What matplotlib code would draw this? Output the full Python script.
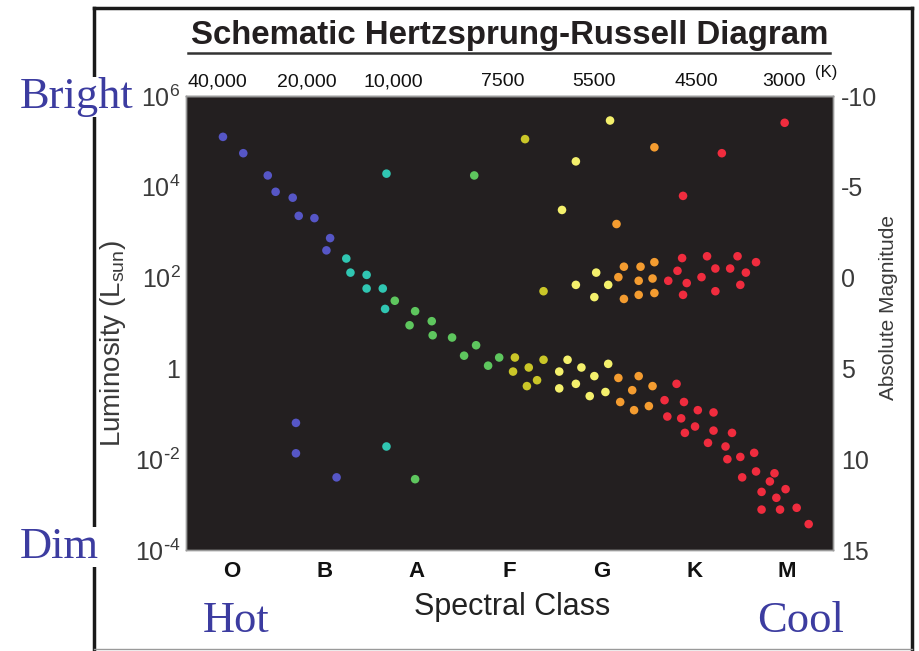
import numpy as np
import matplotlib.pyplot as plt
from matplotlib.lines import Line2D
from matplotlib.ticker import NullLocator

plt.rcParams['font.family'] = ['Liberation Sans', 'DejaVu Sans']
plt.rcParams['mathtext.default'] = 'regular'

# Axis settings
classes = ['O', 'B', 'A', 'F', 'G', 'K', 'M']
temp_pos = [0.34, 1.31, 2.24, 3.43, 4.42, 5.52, 6.47]
temp_labels = ['40,000', '20,000', '10,000', '7500', '5500', '4500', '3000']
lum_ticks = [1e6, 1e4, 1e2, 1, 1e-2, 1e-4]
lum_labels = [r'$10^6$', r'$10^4$', r'$10^2$', '1', r'$10^{\text{-}2}$', r'$10^{\text{-}4}$']
mag_ticks = [-10, -5, 0, 5, 10, 15]

# Stars: position along the spectral axis (O = 0.5 ... M = 6.5) and log10(L / Lsun)
blue_x = [0.40, 0.62, 0.885, 0.97, 1.155, 1.22, 1.39, 1.56, 1.52, 1.19, 1.19, 1.63]
blue_logl = [5.10, 4.74, 4.25, 3.89, 3.76, 3.36, 3.31, 2.87, 2.60, -1.20, -1.87, -2.40]

cyan_x = [2.17, 1.735, 1.78, 1.955, 1.955, 2.13, 2.155, 2.17]
cyan_logl = [4.29, 2.42, 2.11, 2.06, 1.76, 1.76, 1.31, -1.72]

green_x = [2.26, 3.12, 2.48, 2.42, 2.66, 2.67, 2.88, 3.14, 3.01, 3.27, 3.39, 2.48]
green_logl = [1.49, 4.25, 1.26, 0.95, 1.04, 0.73, 0.68, 0.51, 0.28, 0.06, 0.24, -2.44]

olive_x = [3.67, 3.87, 3.56, 3.54, 3.71, 3.87, 3.69, 3.80]
olive_logl = [5.05, 1.70, 0.24, -0.07, 0.02, 0.19, -0.39, -0.26]

yellow_x = [4.59, 4.22, 4.07, 4.22, 4.44, 4.57, 4.42, 4.13, 4.28, 4.04, 4.42, 4.57,
            4.04, 4.22, 4.37, 4.54]
yellow_logl = [5.46, 4.56, 3.49, 1.84, 2.11, 1.84, 1.57, 0.19, 0.02, -0.07, -0.17, 0.10,
               -0.44, -0.34, -0.61, -0.52]

orange_x = [4.66, 5.07, 4.74, 4.92, 5.07, 4.68, 4.90, 5.05, 4.74, 4.90, 5.07,
            4.68, 4.90, 4.83, 5.05, 4.70, 4.85, 5.01]
orange_logl = [3.18, 4.87, 2.24, 2.24, 2.34, 2.01, 1.93, 1.98, 1.53, 1.62, 1.66,
               -0.21, -0.17, -0.48, -0.39, -0.74, -0.92, -0.83]

red_x = [6.48, 5.80, 5.38, 5.37, 5.32, 5.22, 5.42, 5.38, 5.64, 5.73, 5.58, 5.73,
         5.97, 5.89, 6.06, 6.00, 6.17,
         5.31, 5.18, 5.39, 5.21, 5.36, 5.54, 5.71, 5.40, 5.51, 5.71, 5.91, 5.65,
         5.84, 5.86, 6.00, 6.15, 6.02, 6.17, 6.37, 6.32, 6.23, 6.49, 6.39, 6.23,
         6.43, 6.61, 6.74]
red_logl = [5.41, 4.74, 3.80, 2.43, 2.15, 1.93, 1.88, 1.62, 2.47, 2.20, 2.01, 1.70,
            2.47, 2.20, 2.11, 1.84, 2.34,
            -0.34, -0.70, -0.74, -1.06, -1.10, -0.92, -0.97, -1.42, -1.28, -1.37,
            -1.42, -1.64, -1.72, -2.00, -1.95, -1.86, -2.40, -2.27, -2.31, -2.49,
            -2.72, -2.66, -2.85, -3.11, -3.11, -3.07, -3.43]

groups = [
    (blue_x, blue_logl, '#5656c6'),
    (cyan_x, cyan_logl, '#30c6b2'),
    (green_x, green_logl, '#5ec65e'),
    (olive_x, olive_logl, '#cac628'),
    (yellow_x, yellow_logl, '#f4f06c'),
    (orange_x, orange_logl, '#f49c30'),
    (red_x, red_logl, '#f02c3e'),
]

W, H = 919, 651
fig = plt.figure(figsize=(W / 100, H / 100), dpi=100)
ax = fig.add_axes([186 / W, 1 - 550 / H, 646.7 / W, 454 / H])
ax.set_facecolor('#231f20')

for xs, logl, color in groups:
    ax.scatter(xs, 10 ** np.array(logl), s=38, color=color, edgecolors='none', zorder=3)

# left axis: luminosity
ax.set_yscale('log')
ax.set_ylim(1e-4, 1e6)
ax.set_xlim(0, 7)
ax.set_yticks(lum_ticks, lum_labels)
ax.yaxis.set_minor_locator(NullLocator())
ax.tick_params(axis='y', length=0, labelsize=18, colors='#3a3a3a', pad=4)

# bottom axis: spectral class
ax.set_xticks(np.arange(7) + 0.5, classes)
ax.tick_params(axis='x', length=0, labelsize=16, colors='#111111', pad=8)
for lab in ax.get_xticklabels():
    lab.set_fontweight('bold')

# right axis: absolute magnitude
ax2 = ax.twinx()
ax2.set_ylim(15, -10)
ax2.set_yticks(mag_ticks, [str(m) for m in mag_ticks])
ax2.tick_params(axis='y', length=0, labelsize=18, colors='#3a3a3a', pad=6)

# top axis: temperature
top = ax.secondary_xaxis('top')
top.set_xticks(temp_pos, temp_labels)
top.tick_params(length=0, labelsize=14, colors='#111111', pad=4)

for a in (ax, ax2, top):
    for sp in a.spines.values():
        sp.set_color('#9a9a9a')
        sp.set_linewidth(1)

fig.text(826 / W, 1 - 77 / H, '(K)', fontsize=12, ha='center', va='baseline', color='#111111')

fig.text(113 / W, 1 - 344 / H, r'Luminosity (L$_{sun}$)', rotation=90, fontsize=20,
         ha='center', va='center', color='#3a3a3a')
fig.text(888 / W, 1 - 308 / H, 'Absolute Magnitude', rotation=90, fontsize=15,
         ha='center', va='center', color='#3a3a3a')
fig.text(512 / W, 1 - 615 / H, 'Spectral Class', fontsize=22,
         ha='center', va='baseline', color='#222222')

# title with underline
fig.text(510 / W, 1 - 44 / H, 'Schematic Hertzsprung-Russell Diagram', fontsize=23.8,
         fontweight='bold', ha='center', va='baseline', color='#231f20')
fig.add_artist(Line2D([188 / W, 830 / W], [1 - 53 / H, 1 - 53 / H],
                      transform=fig.transFigure, color='#333333', lw=1.8))

# outer frame
frame = dict(transform=fig.transFigure, color='#1a1a1a', lw=2.5)
fig.add_artist(Line2D([94 / W, 94 / W], [1 - 8 / H, 1 - 649 / H], **frame))
fig.add_artist(Line2D([94 / W, 912 / W], [1 - 8 / H, 1 - 8 / H], **frame))
fig.add_artist(Line2D([912 / W, 912 / W], [1 - 8 / H, 1 - 649 / H], **frame))
fig.add_artist(Line2D([94 / W, 912 / W], [1 - 649 / H, 1 - 649 / H],
                      transform=fig.transFigure, color='#9a9a9a', lw=1))

# serif annotations
note = dict(family='Liberation Serif', fontsize=32, color='#3c3ca0', va='baseline',
            bbox=dict(facecolor='white', edgecolor='none', pad=0))
fig.text(20 / W, 1 - 108 / H, 'Bright', ha='left', **note)
fig.text(20 / W, 1 - 558 / H, 'Dim', ha='left', **note)
fig.text(203 / W, 1 - 632 / H, 'Hot', ha='left', **note)
fig.text(757 / W, 1 - 632 / H, 'Cool', ha='left', **note)

fig.savefig('out.png', dpi=100)
